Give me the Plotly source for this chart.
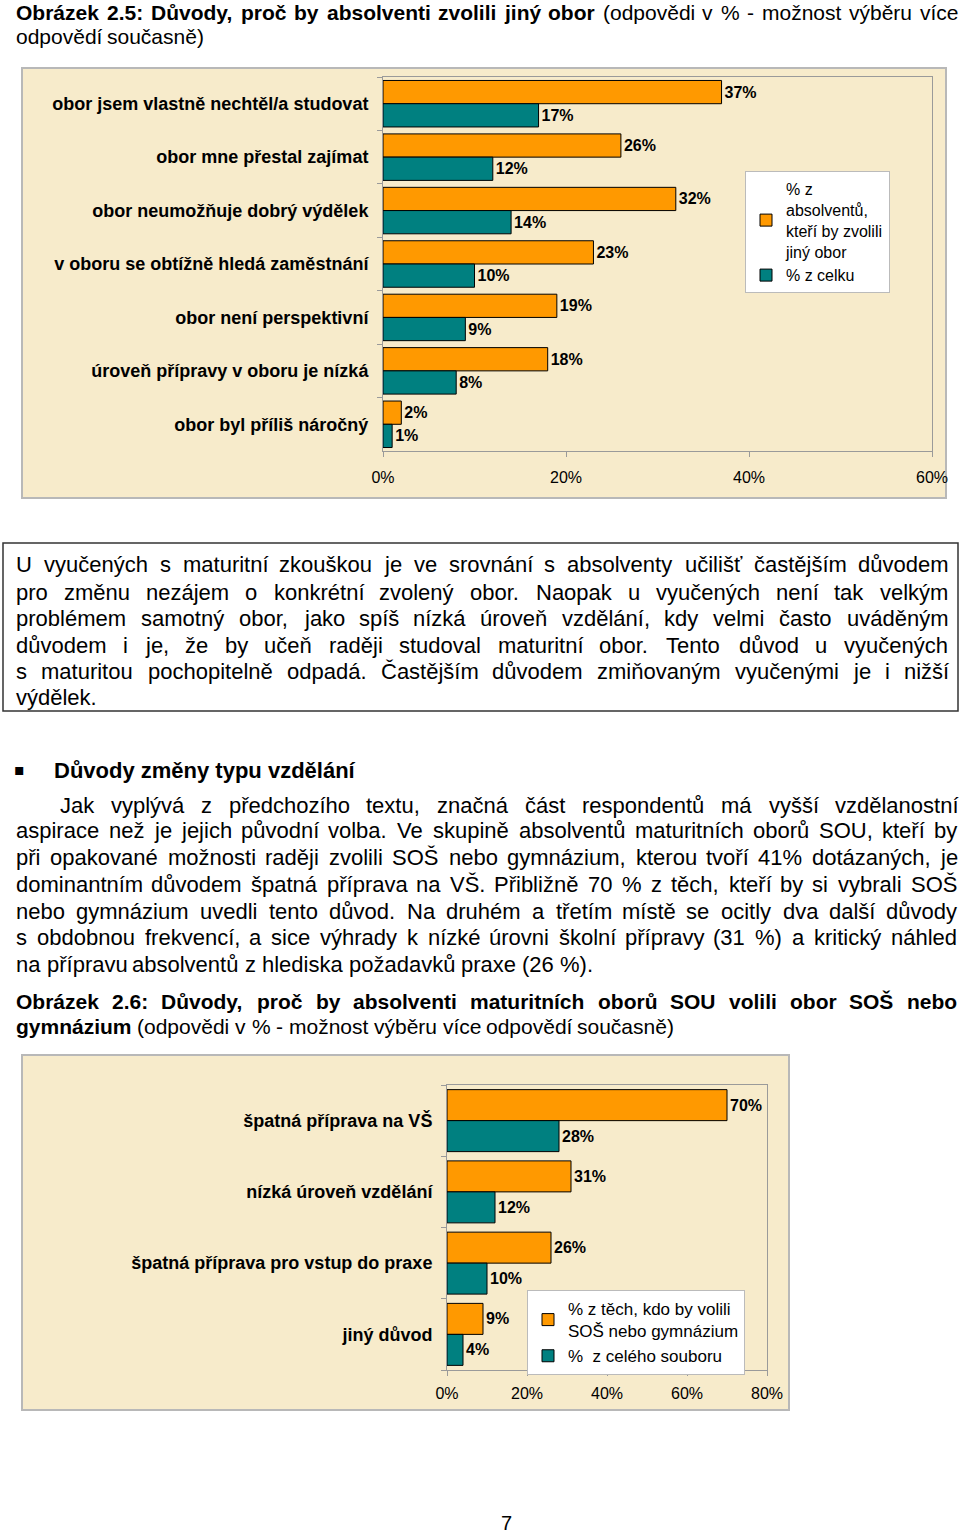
import unicodedata
import plotly.graph_objects as go

W, H = 960, 1534

# ---------------- data ----------------
cats1 = ["obor jsem vlastně nechtěl/a studovat", "obor mne přestal zajímat",
         "obor neumožňuje dobrý výdělek", "v oboru se obtížně hledá zaměstnání",
         "obor není perspektivní", "úroveň přípravy v oboru je nízká",
         "obor byl příliš náročný"]
orange1 = [37, 26, 32, 23, 19, 18, 2]
teal1 = [17, 12, 14, 10, 9, 8, 1]
name1a = "% z<br>absolventů,<br>kteří by zvolili<br>jiný obor"
name1b = "% z celku"
ticks1 = [0, 20, 40, 60]

cats2 = ["špatná příprava na VŠ", "nízká úroveň vzdělání",
         "špatná příprava pro vstup do praxe", "jiný důvod"]
orange2 = [70, 31, 26, 9]
teal2 = [28, 12, 10, 4]
name2a = "% z těch, kdo by volili<br>SOŠ nebo gymnázium"
name2b = "%  z celého souboru"
ticks2 = [0, 20, 40, 60, 80]

# text lines: (bold part, regular part)
title1 = [("Obrázek 2.5: Důvody, proč by absolventi zvolili jiný obor",
           "(odpovědi v % - možnost výběru více"),
          ("", "odpovědí současně)")]
para1 = [
    "U vyučených s maturitní zkouškou je ve srovnání s absolventy učilišť častějším důvodem",
    "pro změnu nezájem o konkrétní zvolený obor. Naopak u vyučených není tak velkým",
    "problémem samotný obor, jako spíš nízká úroveň vzdělání, kdy velmi často uváděným",
    "důvodem i je, že by učeň raději studoval maturitní obor. Tento důvod u vyučených",
    "s maturitou pochopitelně odpadá. Častějším důvodem zmiňovaným vyučenými je i nižší",
    "výdělek.",
]
heading = "Důvody změny typu vzdělání"
para2 = [
    "Jak vyplývá z předchozího textu, značná část respondentů má vyšší vzdělanostní",
    "aspirace než je jejich původní volba. Ve skupině absolventů maturitních oborů SOU, kteří by",
    "při opakované možnosti raději zvolili SOŠ nebo gymnázium, kterou tvoří 41% dotázaných, je",
    "dominantním důvodem špatná příprava na VŠ. Přibližně 70 % z těch, kteří by si vybrali SOŠ",
    "nebo gymnázium uvedli tento důvod. Na druhém a třetím místě se ocitly dva další důvody",
    "s obdobnou frekvencí, a sice výhrady k nízké úrovni školní přípravy (31 %) a kritický náhled",
    "na přípravu absolventů z hlediska požadavků praxe (26 %).",
]
title2 = [("Obrázek 2.6: Důvody, proč by absolventi maturitních oborů SOU volili obor SOŠ nebo", ""),
          ("gymnázium", "(odpovědi v % - možnost výběru více odpovědí současně)")]
page_no = "7"

# ---------------- style ----------------
ARIAL = "Liberation Sans, Arial, sans-serif"
ORANGE = "#FF9900"
TEAL = "#008080"
PARCH = "#F7EBCB"
GRAY = "#9A9A9A"

# approximate Arial advance widths (1/1000 em) used for justifying text lines
REG = dict(zip("abcdefghijklmnopqrstuvwxyz",
               [556, 556, 500, 556, 556, 278, 556, 556, 222, 222, 500, 222, 833, 556, 556, 556,
                556, 333, 500, 278, 556, 500, 722, 500, 500, 500]))
BLD = dict(zip("abcdefghijklmnopqrstuvwxyz",
               [556, 611, 556, 611, 556, 333, 611, 611, 278, 278, 556, 278, 889, 611, 611, 611,
                611, 389, 556, 333, 611, 556, 778, 556, 556, 500]))
UPP = dict(zip("ABCDEFGHIJKLMNOPQRSTUVWXYZ",
               [667, 667, 722, 722, 667, 611, 778, 722, 278, 500, 667, 556, 833, 722, 778, 667,
                778, 722, 667, 611, 722, 667, 944, 667, 667, 611]))
UPPB = dict(UPP, J=556, K=722, L=611, A=722, B=722)
PUNCT = {" ": 278, ".": 278, ",": 278, ":": 278, ";": 278, "%": 889, "(": 333, ")": 333,
         "-": 333, "/": 278}


def text_width(s, size, bold):
    tot = 0
    for ch in s:
        if ch == "ť":
            tot += 375 if not bold else 479
            continue
        if ch == "ď":
            tot += 615 if not bold else 719
            continue
        base = unicodedata.normalize("NFD", ch)[0]
        if base.isdigit():
            tot += 556
        elif base in PUNCT:
            tot += 333 if (bold and base == ":") else PUNCT[base]
        elif base.islower():
            tot += (BLD if bold else REG).get(base, 556)
        elif base.isupper():
            tot += (UPPB if bold else UPP).get(base, 667)
        else:
            tot += 556
    return tot * size / 1000.0


def px(x):
    return x / W


def py(y):
    return 1 - y / H


ann = []


def put(s, x, y, size, bold=False, anchor="left", family=ARIAL):
    ann.append(dict(text=f"<b>{s}</b>" if bold else s, x=px(x), y=py(y), xref="paper",
                    yref="paper", xanchor=anchor, yanchor="middle", showarrow=False,
                    font=dict(family=family, size=size, color="black")))


def line(bold_part, reg_part, y, x0, x1, size, justify=True):
    words = [(w, True) for w in bold_part.split()] + [(w, False) for w in reg_part.split()]
    if not justify or len(words) < 2:
        x = x0
        sp = 0.278 * size
        for w, b in words:
            put(w, x, y, size, b)
            x += text_width(w, size, b) + sp
        return
    widths = [text_width(w, size, b) for w, b in words]
    gap = (x1 - x0 - sum(widths)) / (len(words) - 1)
    x = x0
    for (w, b), wd in zip(words, widths):
        put(w, x, y, size, b)
        x += wd + gap


# ---------------- figure ----------------
fig = go.Figure()


def bars(cats, vals, name, color, xa, ya, leg, lsize):
    fig.add_trace(go.Bar(y=cats, x=vals, orientation="h", name=name,
                         marker=dict(color=color, line=dict(color="black", width=1)),
                         text=[f"{v}%" for v in vals], textposition="outside",
                         texttemplate="<b>%{text}</b>",
                         textfont=dict(family=ARIAL, size=lsize, color="black"),
                         constraintext="none", cliponaxis=False,
                         xaxis=xa, yaxis=ya, legend=leg))


bars(cats1, orange1, name1a, ORANGE, "x", "y", "legend", 16)
bars(cats1, teal1, name1b, TEAL, "x", "y", "legend", 16)
bars(cats2, orange2, name2a, ORANGE, "x2", "y2", "legend2", 16)
bars(cats2, teal2, name2b, TEAL, "x2", "y2", "legend2", 16)

shapes = [
    dict(type="rect", xref="paper", yref="paper", x0=px(22), x1=px(946), y0=py(498), y1=py(68),
         fillcolor=PARCH, line=dict(color="#B8B8B8", width=2), layer="below"),
    dict(type="rect", xref="paper", yref="paper", x0=px(22), x1=px(789), y0=py(1410), y1=py(1055),
         fillcolor=PARCH, line=dict(color="#B8B8B8", width=2), layer="below"),
    dict(type="rect", xref="paper", yref="paper", x0=px(3), x1=px(958), y0=py(711), y1=py(543),
         fillcolor="rgba(0,0,0,0)", line=dict(color="#333333", width=1.5), layer="below"),
]

# texts
line(title1[0][0], title1[0][1], 12, 14, 955, 21)
line(title1[1][0], title1[1][1], 36, 14, 955, 21, justify=False)

ys1 = [565, 592, 619, 645, 671, 697]
for i, (s, y) in enumerate(zip(para1, ys1)):
    line("", s, y, 14, 946, 22, justify=i < len(para1) - 1)

put("▪", 19, 769, 16, anchor="center", family="DejaVu Sans, sans-serif")
put(heading, 52, 770, 22, bold=True)

ys2 = [805, 831, 858, 884, 911, 937, 964]
for i, (s, y) in enumerate(zip(para2, ys2)):
    line("", s, y, 58 if i == 0 else 14, 955, 22, justify=i < len(para2) - 1)

line(title2[0][0], title2[0][1], 1001, 14, 955, 21)
line(title2[1][0], title2[1][1], 1026, 14, 955, 21, justify=False)

put(page_no, 507, 1523, 20, anchor="center")

axis_common = dict(showgrid=False, zeroline=False, showline=True, mirror=True, linecolor=GRAY,
                   linewidth=1, ticks="outside", ticklen=5, tickcolor=GRAY, automargin=False)

fig.update_layout(
    width=W, height=H, margin=dict(l=0, r=0, t=0, b=0, pad=0, autoexpand=False),
    paper_bgcolor="white", plot_bgcolor="rgba(0,0,0,0)",
    barmode="group", bargap=0.13, bargroupgap=0.0,
    showlegend=True,
    shapes=shapes, annotations=ann,
    xaxis=dict(domain=[px(383), px(932)], anchor="y", range=[0, 60], tickvals=ticks1,
               ticktext=[f"{t}%" for t in ticks1], ticklabelstandoff=7,
               tickfont=dict(family=ARIAL, size=16, color="black"), **axis_common),
    yaxis=dict(domain=[py(451), py(77)], anchor="x", autorange="reversed", type="category",
               tickson="boundaries", ticklabelstandoff=10,
               tickvals=cats1, ticktext=[f"<b>{c}</b>" for c in cats1],
               tickfont=dict(family=ARIAL, size=18, color="black"), **axis_common),
    xaxis2=dict(domain=[px(447), px(767)], anchor="y2", range=[0, 80], tickvals=ticks2,
                ticktext=[f"{t}%" for t in ticks2], ticklabelstandoff=4,
                tickfont=dict(family=ARIAL, size=16, color="black"), **axis_common),
    yaxis2=dict(domain=[py(1370), py(1085)], anchor="x2", autorange="reversed", type="category",
                tickson="boundaries", ticklabelstandoff=10,
                tickvals=cats2, ticktext=[f"<b>{c}</b>" for c in cats2],
                tickfont=dict(family=ARIAL, size=18, color="black"), **axis_common),
    legend=dict(x=px(745), y=py(171), xanchor="left", yanchor="top", bgcolor="white",
                bordercolor="#BBBBBB", borderwidth=1, traceorder="normal",
                font=dict(family=ARIAL, size=16, color="black"), itemwidth=30, tracegroupgap=0),
    legend2=dict(x=px(527), y=py(1290), xanchor="left", yanchor="top", bgcolor="white",
                 bordercolor="#BBBBBB", borderwidth=1, traceorder="normal",
                 font=dict(family=ARIAL, size=17, color="black"), itemwidth=30, tracegroupgap=0),
)

fig.write_html("out.html")
